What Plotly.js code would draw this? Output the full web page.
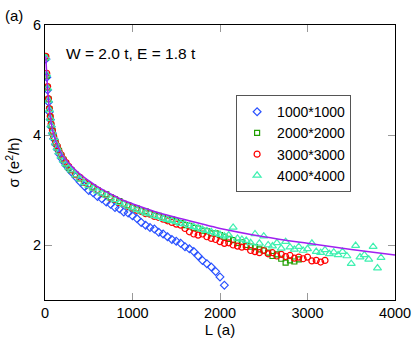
<!DOCTYPE html>
<html>
<head>
<meta charset="utf-8">
<script src="https://cdn.plot.ly/plotly-3.0.1.min.js"></script>
<style>
  html, body { margin: 0; padding: 0; background: #fff; }
  #chart { width: 415px; height: 338px; }
</style>
</head>
<body>
<div id="chart"></div>
<script>
// sample lengths L (a), shared by all system sizes
const lengths = [10, 20, 30, 40, 50, 60, 70, 85, 100, 120, 140, 160, 185, 210, 240, 270, 300,
  350, 400, 450, 500, 550, 600, 650, 700, 750, 800, 850, 900, 950, 1000,
  1050, 1100, 1150, 1200, 1250, 1300, 1350, 1400, 1450, 1500,
  1550, 1600, 1650, 1700, 1750, 1800, 1850, 1900, 1950, 2000,
  2050, 2100, 2150, 2200, 2250, 2300, 2350, 2400, 2450, 2500,
  2550, 2600, 2650, 2700, 2750, 2800, 2850, 2900, 2950, 3000,
  3050, 3100, 3150, 3200, 3250, 3300, 3350, 3400, 3450, 3500,
  3550, 3600, 3650, 3700, 3750, 3800, 3840];

const sigma1000 = [5.38, 5.05, 4.82, 4.6, 4.42, 4.28, 4.15, 4.03, 3.93, 3.83, 3.74, 3.66, 3.58, 3.52, 3.45, 3.39, 3.33,
  3.24, 3.15, 3.07, 2.99, 2.95, 2.88, 2.84, 2.78, 2.74, 2.68, 2.66, 2.6, 2.58, 2.53,
  2.48, 2.41, 2.36, 2.32, 2.29, 2.23, 2.2, 2.15, 2.1, 2.07,
  2.03, 1.97, 1.93, 1.88, 1.8, 1.72, 1.66, 1.6, 1.52, 1.42,
  1.27];

const sigma2000 = [5.41, 5.08, 4.86, 4.65, 4.47, 4.32, 4.19, 4.07, 3.96, 3.87, 3.78, 3.71, 3.62, 3.55, 3.48, 3.41, 3.36,
  3.28, 3.21, 3.14, 3.09, 3.05, 3.0, 2.95, 2.92, 2.87, 2.83, 2.8, 2.75, 2.72, 2.68,
  2.66, 2.62, 2.61, 2.57, 2.55, 2.53, 2.5, 2.46, 2.46, 2.43,
  2.4, 2.36, 2.35, 2.31, 2.3, 2.26, 2.25, 2.21, 2.21, 2.18,
  2.15, 2.11, 2.09, 2.04, 2.05, 2.0, 1.97, 1.96, 1.92, 1.9,
  1.86, 1.8, 1.83, 1.75, 1.68, 1.72, 1.7, 1.74];

const sigma3000 = [5.43, 5.12, 4.88, 4.66, 4.48, 4.34, 4.2, 4.08, 3.97, 3.86, 3.8, 3.71, 3.64, 3.56, 3.5, 3.43, 3.37,
  3.28, 3.23, 3.14, 3.1, 3.04, 3.0, 2.94, 2.91, 2.85, 2.83, 2.77, 2.75, 2.7, 2.67,
  2.63, 2.61, 2.57, 2.56, 2.52, 2.5, 2.47, 2.44, 2.41, 2.38,
  2.36, 2.3, 2.24, 2.2, 2.18, 2.2, 2.15, 2.12, 2.1, 2.06,
  2.03, 2.04, 2.0, 1.98, 1.96, 1.97, 1.9, 1.88, 1.86, 1.9,
  1.84, 1.86, 1.8, 1.83, 1.79, 1.81, 1.76, 1.78, 1.75, 1.78,
  1.71, 1.72, 1.69, 1.72];

const sigma4000 = [5.4, 5.1, 4.85, 4.63, 4.46, 4.3, 4.18, 4.05, 3.95, 3.85, 3.76, 3.69, 3.61, 3.54, 3.47, 3.41, 3.36,
  3.27, 3.2, 3.13, 3.08, 3.03, 2.98, 2.94, 2.9, 2.85, 2.82, 2.77, 2.74, 2.7, 2.67,
  2.64, 2.61, 2.58, 2.56, 2.53, 2.51, 2.48, 2.46, 2.44, 2.42,
  2.39, 2.38, 2.35, 2.33, 2.31, 2.28, 2.26, 2.24, 2.21, 2.19,
  2.16, 2.18, 2.32, 2.12, 2.1, 2.08, 2.04, 2.2, 2.03, 2.16,
  2.0, 1.98, 2.04, 1.94, 2.06, 1.96, 1.92, 1.97, 1.9, 1.93,
  2.03, 1.88, 1.86, 1.91, 1.84, 1.87, 1.82, 1.88, 1.8, 1.66,
  1.99, 1.78, 1.82, 1.74, 1.97, 1.58, 1.77];

// fitted curve
const fitL = [10, 25, 50, 75, 100, 150, 200, 300, 400, 500, 600, 700, 800, 900, 1000,
  1250, 1500, 1750, 2000, 2500, 3000, 3500, 4000];
const fitSigma = [5.43, 4.95, 4.47, 4.18, 4.0, 3.78, 3.63, 3.44, 3.29, 3.17, 3.06, 2.97, 2.89, 2.81, 2.75,
  2.61, 2.5, 2.4, 2.3, 2.15, 2.03, 1.92, 1.82];

const series = [
  { name: "1000*1000", y: sigma1000, symbol: "diamond-open", color: "#2a52ff", size: 6 },
  { name: "2000*2000", y: sigma2000, symbol: "square-open", color: "#1f9e00", size: 5 },
  { name: "3000*3000", y: sigma3000, symbol: "circle-open", color: "#ff0000", size: 6 },
  { name: "4000*4000", y: sigma4000, symbol: "triangle-up-open", color: "#3ef0b0", size: 7 }
];

const font = "Liberation Sans, Arial, sans-serif";

const traces = series.map(s => ({
  type: "scatter",
  mode: "markers",
  name: s.name,
  x: lengths.slice(0, s.y.length),
  y: s.y,
  marker: { symbol: s.symbol, size: s.size, color: s.color, line: { color: s.color, width: 1.2 } }
}));

traces.push({
  type: "scatter",
  mode: "lines",
  x: fitL,
  y: fitSigma,
  line: { color: "#a020f0", width: 1.5, shape: "spline" },
  showlegend: false
});

const axisStyle = {
  showgrid: false,
  zeroline: false,
  showline: true,
  linecolor: "#000",
  linewidth: 1,
  mirror: "ticks",
  ticks: "inside",
  ticklen: 7,
  tickcolor: "#999",
  tickfont: { family: font, size: 14.5, color: "#000" }
};

const layout = {
  width: 415,
  height: 338,
  margin: { l: 45, r: 20, t: 25, b: 38 },
  paper_bgcolor: "#fff",
  plot_bgcolor: "#fff",
  font: { family: font, color: "#000" },
  showlegend: true,
  legend: {
    x: 0.546, y: 0.745, xanchor: "left", yanchor: "top",
    bordercolor: "#555", borderwidth: 1, bgcolor: "#fff",
    font: { family: font, size: 14 },
    tracegroupgap: 0
  },
  xaxis: Object.assign({}, axisStyle, {
    range: [0, 4000], tickvals: [0, 1000, 2000, 3000, 4000],
    title: { text: "L (a)", font: { family: font, size: 15 }, standoff: 0 }
  }),
  yaxis: Object.assign({}, axisStyle, {
    range: [1, 6], tickvals: [2, 4, 6],
    title: { text: "σ (e<sup>2</sup>/h)", font: { family: font, size: 15 }, standoff: 9 }
  }),
  annotations: [
    { text: "(a)", xref: "paper", yref: "paper", x: -0.12, y: 1.033, xanchor: "left", yanchor: "middle",
      showarrow: false, font: { family: font, size: 15 } },
    { text: "W = 2.0 t, E = 1.8 t", xref: "paper", yref: "paper", x: 0.054, y: 0.895, xanchor: "left", yanchor: "middle",
      showarrow: false, font: { family: font, size: 15.5 } }
  ]
};

Plotly.newPlot("chart", traces, layout, { displayModeBar: false, staticPlot: true });
</script>
</body>
</html>
